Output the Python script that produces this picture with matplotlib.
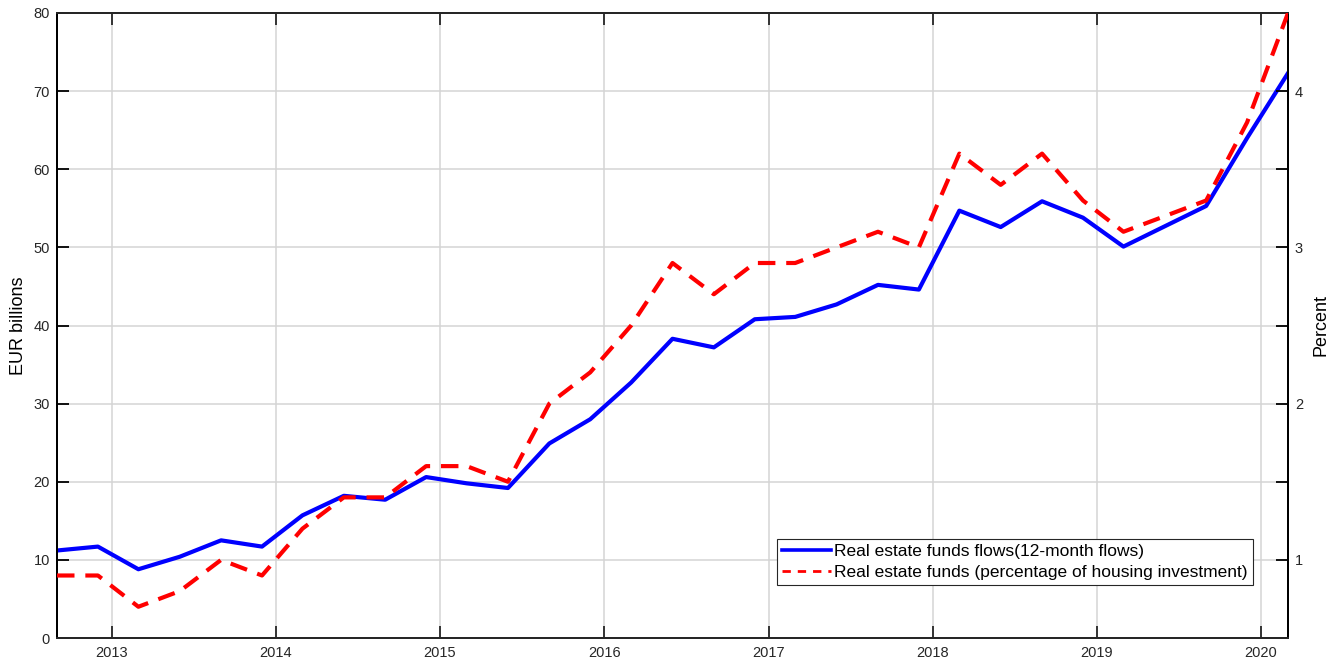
import numpy as np
import pandas as pd
import matplotlib
matplotlib.use('Agg')
import matplotlib.pyplot as plt
from matplotlib.lines import Line2D
from matplotlib.ticker import MultipleLocator, FixedLocator

plt.rcParams['font.family'] = ['Liberation Sans', 'DejaVu Sans']

#%% data (quarterly, Sep 2012 - Mar 2020)
dates = pd.date_range('2012-09-01', '2020-03-01', freq='3MS')

flows = [11.2, 11.7, 8.8, 10.4, 12.5, 11.7, 15.7, 18.2, 17.7, 20.6,
         19.8, 19.2, 24.9, 28.0, 32.7, 38.3, 37.2, 40.8, 41.1, 42.7,
         45.2, 44.6, 54.7, 52.6, 55.9, 53.8, 50.1, 52.7, 55.3, 64.0,
         72.3]

pct_invest = [0.9, 0.9, 0.7, 0.8, 1.0, 0.9, 1.2, 1.4, 1.4, 1.6,
              1.6, 1.5, 2.0, 2.2, 2.5, 2.9, 2.7, 2.9, 2.9, 3.0,
              3.1, 3.0, 3.6, 3.4, 3.6, 3.3, 3.1, 3.2, 3.3, 3.8,
              4.5]

year_ticks = pd.to_datetime([f'{y}-01-01' for y in range(2013, 2021)])
year_labels = [str(y) for y in range(2013, 2021)]

lbl_flows = 'Real estate funds flows(12-month flows)'
lbl_pct = 'Real estate funds (percentage of housing investment)'

#%% plot
fig = plt.figure(figsize=(13.31, 6.63), dpi=100)
ax = fig.add_axes([57/1331, 1 - 638/663, (1288-57)/1331, (638-13)/663])
ax2 = ax.twinx()

ax.plot(dates, flows, color='#0000ff', lw=3, zorder=3)
ax2.plot(dates, pct_invest, color='#ff0000', lw=3, linestyle=(0, (4.2, 2.6)), zorder=3)

ax.set_xlim(dates[0], dates[-1])
ax.set_ylim(0, 80)
ax2.set_ylim(0.5, 4.5)

ax.set_xticks(year_ticks)
ax.set_xticklabels(year_labels)
ax.yaxis.set_major_locator(MultipleLocator(10))
ax2.yaxis.set_major_locator(FixedLocator([1, 2, 3, 4]))
ax2.yaxis.set_minor_locator(FixedLocator([1.5, 2.5, 3.5]))

ax.grid(True, color='#d4d4d4', lw=1.1)
ax.set_axisbelow(True)

ax.tick_params(axis='x', direction='in', top=True, length=8.5, width=1.3,
               pad=6, labelsize=10.5, color='#262626', labelcolor='#262626')
ax.tick_params(axis='y', direction='in', right=False, length=8.5, width=1.3,
               pad=5, labelsize=10.5, color='black', labelcolor='#262626')
ax2.tick_params(axis='y', which='both', direction='in', length=8.5, width=1.3,
                pad=5, labelsize=10.5, color='black', labelcolor='#262626')

for a in (ax, ax2):
    for s in a.spines.values():
        s.set_linewidth(1.4)
    a.spines['top'].set_color('#262626')
    a.spines['bottom'].set_color('#262626')

ax.set_ylabel('EUR billions', fontsize=13)
ax.yaxis.set_label_coords(-0.0244, 0.5)
ax2.set_ylabel('Percent', fontsize=13)
ax2.yaxis.set_label_coords(1.0195, 0.5)

handles = [Line2D([], [], color='#0000ff', lw=2.6),
           Line2D([], [], color='#ff0000', lw=2, linestyle=(0, (3, 2.5)))]
leg = ax2.legend(handles, [lbl_flows, lbl_pct], loc='lower right',
                 bbox_to_anchor=(0.9716, 0.0848), borderaxespad=0,
                 fontsize=12.5, fancybox=False, framealpha=1, edgecolor='#262626',
                 handlelength=2.8, handletextpad=0.2, labelspacing=0.3,
                 borderpad=0.3)
leg.get_frame().set_linewidth(0.8)

fig.savefig('out.png', dpi=100)
